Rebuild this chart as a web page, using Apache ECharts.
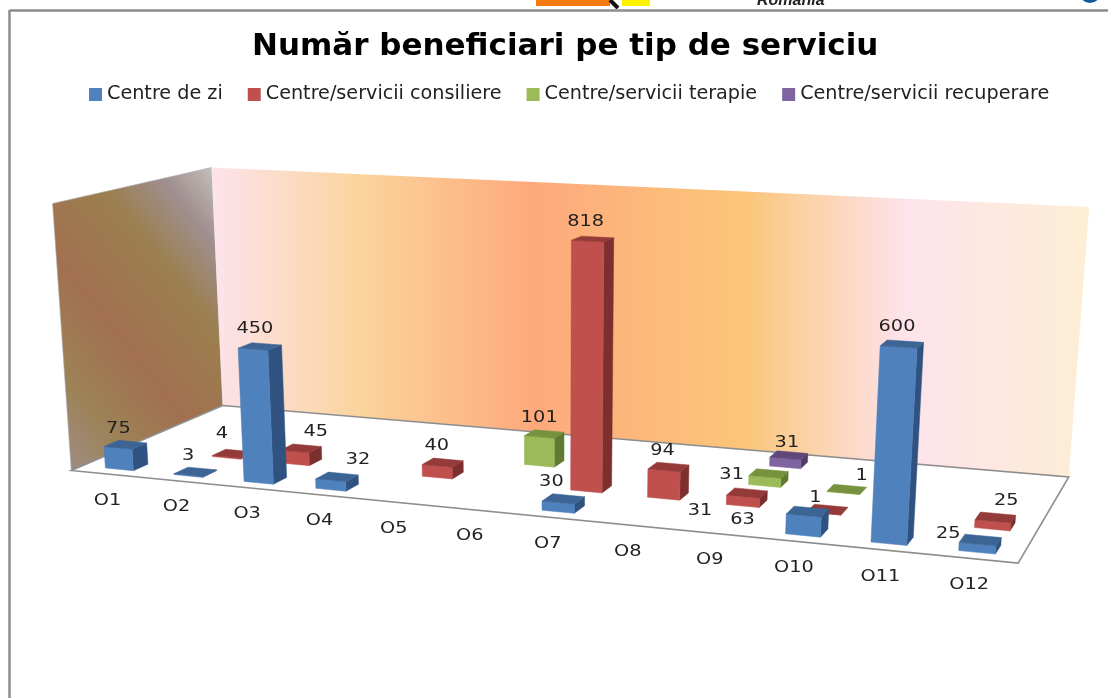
<!DOCTYPE html>
<html><head><meta charset="utf-8">
<style>html,body{margin:0;padding:0;background:#fff}#c{width:1108px;height:698px}</style>
<script src="https://cdn.jsdelivr.net/npm/echarts@6/dist/echarts.min.js"></script>
</head><body><div id="c"></div>
<script>
const categories = ['O1','O2','O3','O4','O5','O6','O7','O8','O9','O10','O11','O12'];
const seriesNames = ['Centre de zi','Centre/servicii consiliere','Centre/servicii terapie','Centre/servicii recuperare'];
const centreDeZi  = [75,3,450,32,null,null,30,null,null,63,600,25];
const consiliere  = [null,4,45,null,40,null,818,94,31,1,null,25];
const terapie     = [null,null,null,null,null,101,null,null,31,1,null,null];
const recuperare  = [null,null,null,null,null,null,null,null,31,null,null,null];
const valueMax = 900;

// styles
const faceColors = [
  {front:'#4f81bd',top:'#3c6494',side:'#2f5280'},
  {front:'#c0504d',top:'#943a38',side:'#7c2f2d'},
  {front:'#9bbb59',top:'#76923c',side:'#617a31'},
  {front:'#8064a2',top:'#5f497a',side:'#4f3c68'}
];
// manual label displacement (px) of each value label from its default place above the bar
const labelShift = [
  {0:[-7,1],1:[-7,1],2:[-5,-1],3:[21,0],6:[-12,0],9:[-65,25],10:[-5,0],11:[-32,11]},
  {1:[-11,-3],2:[15,0],4:[-6,0],6:[-7,0],7:[-6,1],8:[-47,35],9:[-12,5],11:[11,0]},
  {5:[-5,1],8:[-37,18],9:[15,3]},
  {8:[-2,4]}
];
const FONT = '"DejaVu Sans"';
const TEXT_STRETCH = 1.17;
const BAR_W = 0.41, ROW_D = 0.09, ROW_START = 0.065, U_NUDGE = 0.004;

// Camera: projective map from unit box (u along categories, v depth, w height) to the page
const corners = [
  [0,0,0, 72,471],[1,0,0, 1018,563],[1,1,0, 1069,477],[0,1,0, 222,405],
  [0,1,1, 212,168],[1,1,1, 1089,207],[0,0,1, 52,203]
];
function solveCamera(pts){
  const rows=[],rhs=[];
  pts.forEach(([u,v,w,X,Y])=>{
    const x=X/1000,y=Y/1000;
    rows.push([u,v,w,1,0,0,0,0,-x*u,-x*v,-x*w]);rhs.push(x);
    rows.push([0,0,0,0,u,v,w,1,-y*u,-y*v,-y*w]);rhs.push(y);
  });
  const n=11,A=[];
  for(let r=0;r<n;r++){
    const line=[];
    for(let c=0;c<n;c++){let s=0;rows.forEach(R=>s+=R[r]*R[c]);line.push(s);}
    let s=0;rows.forEach((R,k)=>s+=R[r]*rhs[k]);line.push(s);
    A.push(line);
  }
  for(let i=0;i<n;i++){
    let p=i;for(let r=i+1;r<n;r++)if(Math.abs(A[r][i])>Math.abs(A[p][i]))p=r;
    [A[i],A[p]]=[A[p],A[i]];
    for(let r=0;r<n;r++){if(r===i)continue;const f=A[r][i]/A[i][i];for(let c=i;c<=n;c++)A[r][c]-=f*A[i][c];}
  }
  return A.map((l,i)=>l[n]/l[i]);
}
const K = solveCamera(corners);
function project(u,v,w){
  const d=K[8]*u+K[9]*v+K[10]*w+1;
  return [1000*(K[0]*u+K[1]*v+K[2]*w+K[3])/d, 1000*(K[4]*u+K[5]*v+K[6]*w+K[7])/d];
}
function poly(points,fill,z2){
  return {type:'polygon',shape:{points},style:{fill,stroke:fill,lineWidth:0.5},z2:z2||0};
}
function stretchedText(x,y,text,z2){
  return {type:'text',x,y,scaleX:TEXT_STRETCH,z2:z2||0,style:{x:0,y:0,text,fill:'#222',
    font:'16.5px '+FONT,align:'center',verticalAlign:'middle'}};
}
function barRenderer(row){
  return function(params,api){
    const cat=api.value(0),val=api.value(1);
    if(val==null||isNaN(val))return;
    const cs=params.coordSys;
    const p=api.coord([cat,val]);
    const band=api.size([1,0])[0];
    let uc=(p[0]-cs.x)/cs.width;
    uc+=U_NUDGE*(1-uc);
    const bw=(band/cs.width)*BAR_W;
    const u0=uc-bw/2,u1=uc+bw/2;
    const w=(cs.y+cs.height-p[1])/cs.height;
    const v0=row/4+ROW_START,v1=v0+ROW_D;
    const c=faceColors[row];
    const A=project(u0,v0,0),B=project(u1,v0,0),C=project(u1,v1,0);
    const E=project(u0,v0,w),F=project(u1,v0,w),G=project(u1,v1,w),H=project(u0,v1,w);
    const cx=(E[0]+F[0]+G[0]+H[0])/4,cy=(E[1]+F[1]+G[1]+H[1])/4;
    const sh=(labelShift[row]||{})[cat]||[0,0];
    return {type:'group',children:[
      poly([B,C,G,F],c.side,1),
      poly([A,B,F,E],c.front,2),
      poly([E,F,G,H],c.top,3),
      stretchedText(cx+sh[0],cy-17+sh[1],String(val),10)
    ]};
  };
}
function labelRenderer(params,api){
  const cat=api.value(0);
  const cs=params.coordSys;
  const p=api.coord([cat,0]);
  const q=project((p[0]-cs.x)/cs.width,0,0);
  return stretchedText(q[0]-cat*0.5+2,q[1]+26.5,categories[cat]);
}
function toData(arr){return arr.map((v,i)=>[i,v]).filter(d=>d[1]!=null);}
const allValues=[centreDeZi,consiliere,terapie,recuperare];

const floorPts=[project(0,0,0),project(1,0,0),project(1,1,0),project(0,1,0)];
const backPts=[project(0,1,0),project(1,1,0),project(1,1,1),project(0,1,1)];
const sidePts=[project(0,0,0),project(0,1,0),project(0,1,1),project(0,0,1)];
const LG=echarts.graphic.LinearGradient;
const backFill=new LG(212,0,1089,0,[
  {offset:0,color:'#fde3ec'},{offset:.17,color:'#fad49c'},{offset:.365,color:'#fea97c'},
  {offset:.608,color:'#fbc67a'},{offset:.792,color:'#fde3ec'},{offset:1,color:'#fdeed4'}],true);
const sideFill=new LG(212,168,-20,352,[
  {offset:0,color:'#c4bfb8'},{offset:.15,color:'#a08f90'},{offset:.33,color:'#9b7f4f'},
  {offset:.6,color:'#a27050'},{offset:.82,color:'#9c8256'},{offset:1,color:'#a08c80'}],true);

const chart=echarts.init(document.getElementById('c'),null,{renderer:'canvas'});
chart.setOption({
  animation:false,
  backgroundColor:'#fff',
  title:{text:'Număr beneficiari pe tip de serviciu',left:247,top:26,
    textStyle:{fontFamily:FONT,fontWeight:'bold',fontSize:31,color:'#000'}},
  legend:{left:84,top:80,itemWidth:13,itemHeight:13,itemGap:25,icon:'rect',data:seriesNames,
    textStyle:{fontFamily:FONT,fontSize:19.2,color:'#222'}},
  grid:{left:0,right:0,top:0,bottom:0},
  xAxis:{type:'category',data:categories,show:false},
  yAxis:{type:'value',min:0,max:valueMax,show:false},
  graphic:[
    {type:'rect',shape:{x:536,y:0,width:74,height:6},style:{fill:'#f47a12'}},
    {type:'rect',shape:{x:622,y:0,width:28,height:6},style:{fill:'#fdf200'}},
    {type:'line',shape:{x1:610,y1:0,x2:618,y2:8},style:{stroke:'#111',lineWidth:4}},
    {type:'text',style:{x:757,y:-7,text:'Romania',font:'italic bold 16px "Liberation Sans"',fill:'#222'}},
    {type:'circle',shape:{cx:1090,cy:-8,r:11},style:{fill:'#0a5a9c'}},
    {type:'rect',shape:{x:0,y:9,width:1108,height:689},style:{fill:'#fff'}},
    {type:'line',shape:{x1:9.5,y1:10.5,x2:1108,y2:10.5},style:{stroke:'#8c8c8c',lineWidth:2.5}},
    {type:'line',shape:{x1:9.5,y1:10,x2:9.5,y2:698},style:{stroke:'#8c8c8c',lineWidth:2.5}},
    {type:'polygon',shape:{points:sidePts},style:{fill:sideFill,stroke:'#a8a8a8',lineWidth:.6}},
    {type:'polygon',shape:{points:backPts},style:{fill:backFill}},
    {type:'polygon',shape:{points:floorPts},style:{fill:'#fff',stroke:'#8e8e8e',lineWidth:1.6}}
  ],
  series:seriesNames.map((name,row)=>({
    type:'custom',name,z:10-row,coordinateSystem:'cartesian2d',
    itemStyle:{color:faceColors[row].front},
    encode:{x:0,y:1},
    renderItem:barRenderer(row),
    data:toData(allValues[row])
  })).concat([{
    type:'custom',name:'categories',z:3,coordinateSystem:'cartesian2d',silent:true,
    encode:{x:0,y:1},renderItem:labelRenderer,
    data:categories.map((c,i)=>[i,0])
  }])
});
</script></body></html>
